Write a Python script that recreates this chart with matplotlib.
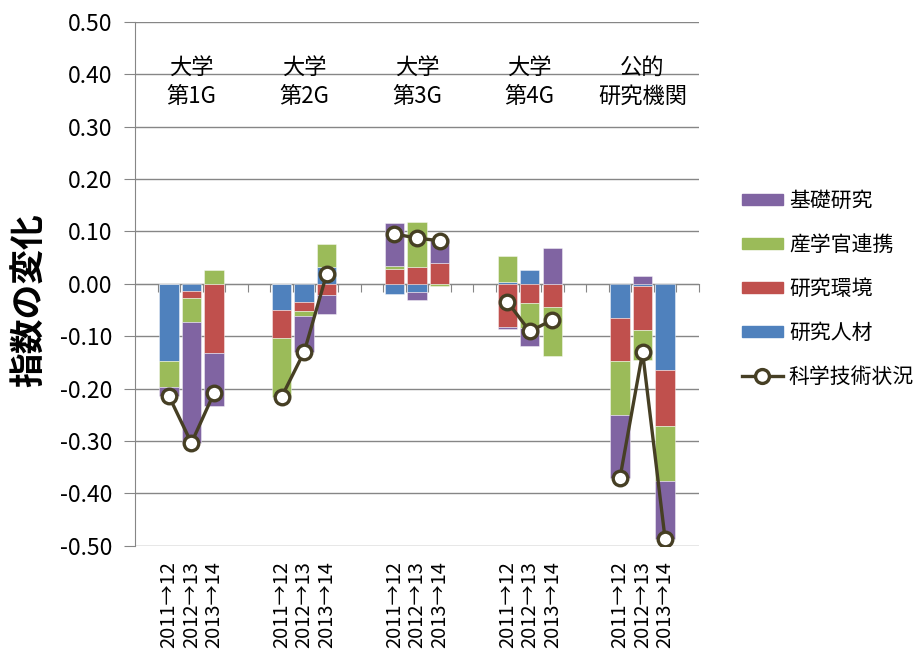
import numpy as np
import matplotlib
matplotlib.use("Agg")
import matplotlib.pyplot as plt
from matplotlib.patches import Patch
from matplotlib.lines import Line2D

plt.rcParams["font.family"] = ["Noto Sans CJK JP", "DejaVu Sans"]

# =====================================================
# Data: index change by component, 3 periods per group
# =====================================================
groups = ["大学\n第1G", "大学\n第2G", "大学\n第3G", "大学\n第4G", "公的\n研究機関"]
periods = ["2011→12", "2012→13", "2013→14"]

# 研究人材
jinzai = [-0.147, -0.013, 0.000,
          -0.050, -0.034, 0.032,
          -0.020, -0.015, 0.000,
          0.004, 0.027, 0.000,
          -0.065, -0.005, -0.165]
# 研究環境
kankyo = [0.000, -0.015, -0.133,
          -0.053, -0.018, -0.022,
          0.029, 0.032, 0.039,
          -0.083, -0.037, -0.045,
          -0.082, -0.084, -0.106]
# 産学官連携
sangaku = [-0.050, -0.046, 0.026,
           -0.113, -0.010, 0.044,
           0.004, 0.085, -0.005,
           0.048, -0.048, -0.093,
           -0.103, -0.056, -0.106]
# 基礎研究
kiso = [-0.018, -0.230, -0.100,
        0.000, -0.068, -0.035,
        0.082, -0.017, 0.048,
        -0.004, -0.033, 0.068,
        -0.120, 0.014, -0.111]
# 科学技術状況 (overall index change)
jokyo = [-0.214, -0.304, -0.209,
         -0.216, -0.130, 0.019,
         0.095, 0.087, 0.082,
         -0.034, -0.091, -0.069,
         -0.370, -0.131, -0.488]

# =====================================================
# Layout: 3 bars per group, two empty slots between groups
# =====================================================
n_groups = len(groups)
n_per = len(periods)
slot = 5
xpos = np.array([1 + slot * g + k for g in range(n_groups) for k in range(n_per)])

fig = plt.figure(figsize=(9.19, 6.54), dpi=100)
ax = fig.add_axes([0.1469, 0.1656, 0.6137, 0.8012])

gray = "#868686"
series = [
    (jinzai, "研究人材", "#4F81BD"),
    (kankyo, "研究環境", "#C0504D"),
    (sangaku, "産学官連携", "#9BBB59"),
    (kiso, "基礎研究", "#8064A2"),
]

# stacked bars, positive and negative parts stacked separately
pos = np.zeros(len(xpos))
neg = np.zeros(len(xpos))
for vals, name, color in series:
    v = np.array(vals)
    base = np.where(v >= 0, pos, neg)
    ax.bar(xpos, v, bottom=base, width=0.86, color=color,
           edgecolor=(1, 1, 1, 0.5), linewidth=0.6, zorder=2)
    pos += np.clip(v, 0, None)
    neg += np.clip(v, None, 0)

line_color = "#463F24"
for g in range(n_groups):
    sl = slice(g * n_per, (g + 1) * n_per)
    ax.plot(xpos[sl], jokyo[sl], color=line_color, lw=2.4, marker="o",
            markersize=10.5, markerfacecolor="white", markeredgecolor=line_color,
            markeredgewidth=2.4, zorder=3)

# =====================================================
# Axes styling
# =====================================================
ax.set_xlim(-0.5, n_groups * slot - 0.5)
ax.set_ylim(-0.5, 0.5)
yt = np.round(np.arange(-0.5, 0.51, 0.1), 2)
ax.set_yticks(yt)
ax.set_yticklabels([f"{abs(v):.2f}" if abs(v) < 1e-9 else f"{v:.2f}" for v in yt])
ax.yaxis.grid(True, color=gray, lw=1)
ax.set_axisbelow(True)

ax.spines["top"].set_visible(False)
ax.spines["right"].set_visible(False)
ax.spines["left"].set_color(gray)
ax.spines["bottom"].set_position(("data", 0))
ax.spines["bottom"].set_color(gray)
ax.spines["bottom"].set_zorder(1)

ax.set_xticks(np.arange(0.5, n_groups * slot, 1))
ax.tick_params(axis="x", direction="out", length=6, color=gray, labelbottom=False)
ax.tick_params(axis="y", direction="out", length=8, color=gray, labelsize=16.5, pad=8)

# period labels under each bar
for i, x in enumerate(xpos):
    ax.text(x, -0.03, periods[i % n_per], transform=ax.get_xaxis_transform(),
            rotation=90, ha="center", va="top", fontsize=14.5)

# group names above the bars
for g in range(n_groups):
    ax.text(2 + slot * g, 0.385, groups[g], ha="center", va="center",
            fontsize=16, linespacing=1.3)

fig.text(30 / 919, 1 - 300 / 654, "指数の変化", rotation=90, fontsize=25,
         fontweight="bold", ha="center", va="center")

handles = [Patch(color=c, label=name) for vals, name, c in series[::-1]]
handles.append(Line2D([], [], color=line_color, lw=2.4, marker="o", markersize=10,
                      markerfacecolor="white", markeredgecolor=line_color,
                      markeredgewidth=2.4, label="科学技術状況"))
fig.legend(handles=handles, loc="center left", bbox_to_anchor=(742 / 919, 1 - 289 / 654),
           frameon=False, fontsize=15, handlelength=1.95, handleheight=0.45,
           labelspacing=1.05, handletextpad=0.3, borderpad=0, borderaxespad=0)

fig.savefig("out.png", dpi=100)
